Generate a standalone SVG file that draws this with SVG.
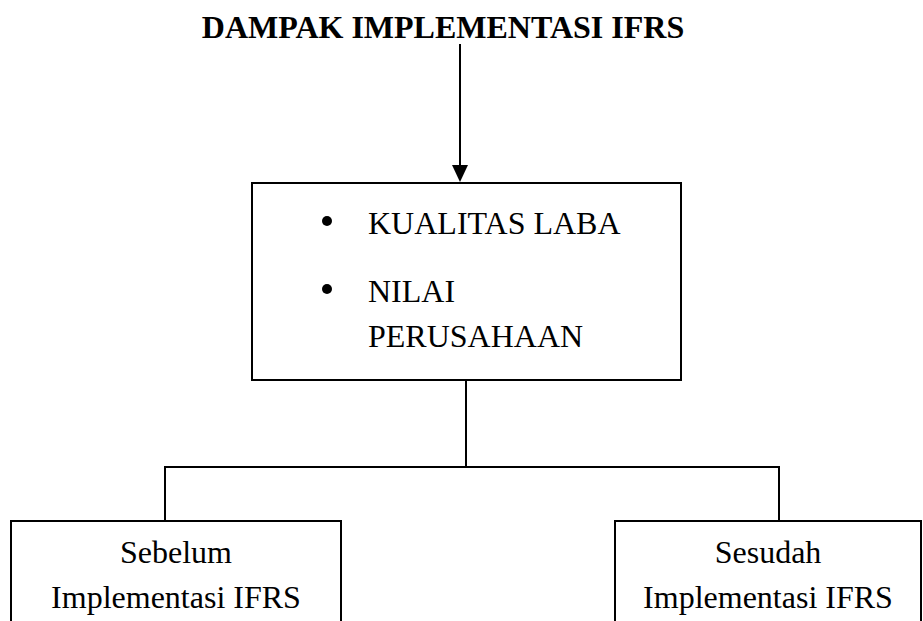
<svg xmlns="http://www.w3.org/2000/svg" width="923" height="621" viewBox="0 0 923 621">
<style>
text{font-family:"Liberation Serif","Times New Roman",serif;font-size:32px;fill:#000}
.title{font-weight:bold}
.box{fill:#fff;stroke:#000;stroke-width:2}
.conn{fill:none;stroke:#000;stroke-width:2}
</style>
<defs>
<marker id="arrow" markerWidth="16" markerHeight="16" refX="8" refY="16" orient="auto" markerUnits="userSpaceOnUse" viewBox="0 0 16 16">
<path d="M0,0 L16,0 L8,16 Z" fill="#000" transform="rotate(-90 8 8)"/>
</marker>
</defs>
<g id="title">
<text class="title" x="443" y="38" text-anchor="middle">DAMPAK IMPLEMENTASI IFRS</text>
</g>
<g id="connectors">
<line class="conn" x1="460" y1="44" x2="460" y2="166"/>
<path d="M452,165 L468,165 L460,182 Z" fill="#000"/>
<path class="conn" d="M466,380 V467 M165,467 H779 M165,466 V521 M779,466 V521"/>
</g>
<g id="main">
<rect class="box" x="252" y="183" width="429" height="197"/>
<circle cx="327" cy="221" r="5"/>
<text x="368" y="234">KUALITAS LABA</text>
<circle cx="327" cy="289" r="5"/>
<text x="368" y="302">NILAI</text>
<text x="368" y="347">PERUSAHAAN</text>
</g>
<g id="sebelum">
<path class="box" d="M11,640 V521 H341 V640"/>
<text x="176" y="563" text-anchor="middle">Sebelum</text>
<text x="176" y="608" text-anchor="middle">Implementasi IFRS</text>
</g>
<g id="sesudah">
<path class="box" d="M615,640 V521 H921 V640"/>
<text x="768" y="563" text-anchor="middle">Sesudah</text>
<text x="768" y="608" text-anchor="middle">Implementasi IFRS</text>
</g>
</svg>
